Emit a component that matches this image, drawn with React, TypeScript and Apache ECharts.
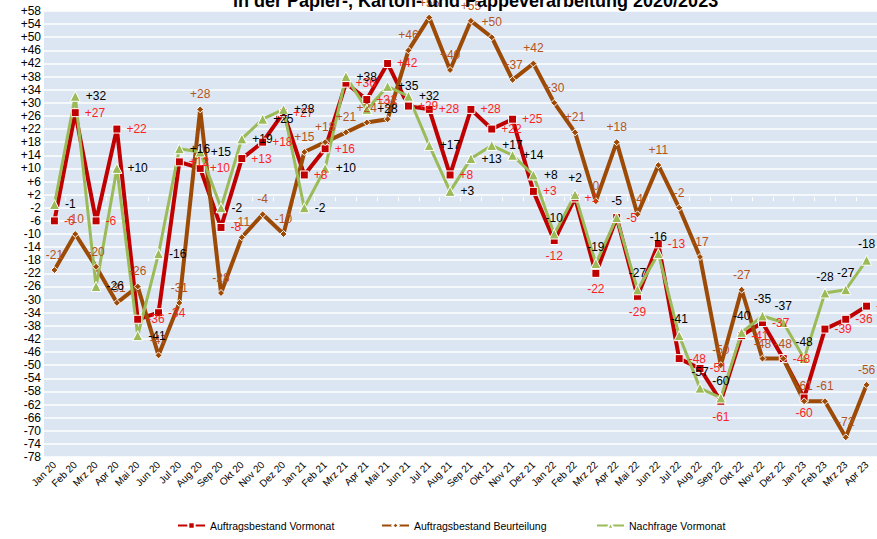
import React, { useEffect, useRef } from "react";
import * as echarts from "echarts";

const categories = [
  "Jan 20", "Feb 20", "Mrz 20", "Apr 20", "Mai 20", "Jun 20", "Jul 20", "Aug 20", "Sep 20", "Okt 20", "Nov 20", "Dez 20",
  "Jan 21", "Feb 21", "Mrz 21", "Apr 21", "Mai 21", "Jun 21", "Jul 21", "Aug 21", "Sep 21", "Okt 21", "Nov 21", "Dez 21",
  "Jan 22", "Feb 22", "Mrz 22", "Apr 22", "Mai 22", "Jun 22", "Jul 22", "Aug 22", "Sep 22", "Okt 22", "Nov 22", "Dez 22",
  "Jan 23", "Feb 23", "Mrz 23", "Apr 23",
];

const auftragsbestandVormonat = [
  -6, 27, -6, 22, -36, -34, 12, 10, -8, 13, 18, 27,
  8, 16, 36, 31, 42, 29, 28, 8, 28, 22, 25, 3,
  -12, 1, -22, -5, -29, -13, -48, -51, -61, -41, -37, -48,
  -60, -39, -36, -32,
];

const auftragsbestandBeurteilung = [
  -21, -10, -20, -31, -26, -47, -31, 28, -28, -11, -4, -10,
  15, 18, 21, 24, 25, 46, 56, 40, 55, 50, 37, 42,
  30, 21, 0, 18, -4, 11, -2, -17, -50, -27, -48, -48,
  -61, -61, -72, -56,
];

const nachfrageVormonat = [
  -1, 32, -26, 10, -41, -16, 16, 15, -2, 19, 25, 28,
  -2, 10, 38, 28, 35, 32, 17, 3, 13, 17, 14, 8,
  -10, 2, -19, -5, -27, -16, -41, -57, -60, -40, -35, -37,
  -48, -28, -27, -18,
];

const seriesNames = ["Auftragsbestand Vormonat", "Auftragsbestand Beurteilung", "Nachfrage Vormonat"];
const titleText = "in der Papier-, Karton- und Pappeverarbeitung 2020/2023";

const FONT = "Liberation Sans, Arial, sans-serif";
const signed = (v: number) => (v > 0 ? "+" + v : String(v));

export default function App() {
  const ref = useRef<HTMLDivElement>(null);
  useEffect(() => {
    if (!ref.current) return;
    const chart = echarts.init(ref.current, undefined, { renderer: "svg" });

    const labelBase = { show: true, fontSize: 12, fontFamily: FONT, formatter: (p: any) => signed(p.value) };

    const redData = auftragsbestandVormonat.map((v, i, arr) => {
      const prev = i > 0 ? arr[i - 1] : Infinity;
      const next = i < arr.length - 1 ? arr[i + 1] : Infinity;
      const localMin = v <= prev && v <= next;
      return { value: v, label: { position: i >= 24 && localMin ? "bottom" : "right" } };
    });

    const greenData = nachfrageVormonat.map((v, i) => ({
      value: v,
      label: { position: i < 24 ? "right" : "top" },
    }));

    chart.setOption({
      animation: false,
      textStyle: { fontFamily: FONT },
      title: {
        text: titleText,
        left: 228,
        top: -13,
        textStyle: { fontSize: 18, fontWeight: "bold", color: "#000", fontFamily: FONT },
      },
      grid: {
        left: 44,
        right: 0,
        top: 11,
        bottom: 82,
        show: true,
        backgroundColor: "#dce6f2",
        borderWidth: 0,
      },
      legend: [0, 1, 2].map((k) => ({
        data: [seriesNames[k]],
        left: [177, 381, 596][k],
        top: 520,
        padding: 0,
        itemWidth: 27,
        itemHeight: 8,
        itemGap: 0,
        textStyle: { fontSize: 10.5, color: "#000", fontFamily: FONT },
      })),
      xAxis: {
        type: "category",
        data: categories,
        boundaryGap: true,
        axisLine: { show: false },
        axisTick: { show: true, inside: true, length: 4, lineStyle: { color: "#ffffff", width: 1 } },
        axisLabel: { interval: 0, rotate: 45, fontSize: 10, color: "#000", fontFamily: FONT, margin: 6 },
        splitLine: { show: false },
      },
      yAxis: {
        type: "value",
        min: -78,
        max: 58,
        interval: 4,
        axisLine: { show: false },
        axisTick: { show: false },
        axisLabel: { fontSize: 12, color: "#000", fontFamily: FONT, margin: 3, formatter: (v: number) => signed(v) },
        splitLine: { show: true, lineStyle: { color: "#ffffff", width: 1.5 } },
      },
      series: [
        {
          name: seriesNames[0],
          type: "line",
          data: redData,
          symbol: "rect",
          symbolSize: 8,
          lineStyle: { color: "#c00000", width: 4 },
          itemStyle: { color: "#c00000", borderColor: "#ffffff", borderWidth: 1 },
          label: { ...labelBase, distance: 5, color: "#ff1f1f" },
        },
        {
          name: seriesNames[1],
          type: "line",
          data: auftragsbestandBeurteilung,
          symbol: "diamond",
          symbolSize: 7,
          lineStyle: { color: "#9c4a06", width: 4 },
          itemStyle: { color: "#9c4a06", borderColor: "#ffffff", borderWidth: 1 },
          label: { ...labelBase, position: "top", distance: 5, color: "#b5541a" },
        },
        {
          name: seriesNames[2],
          type: "line",
          data: greenData,
          symbol: "triangle",
          symbolSize: 10,
          lineStyle: { color: "#9bbb59", width: 3 },
          itemStyle: { color: "#9bbb59", borderColor: "#ffffff", borderWidth: 1 },
          label: { ...labelBase, distance: 5, color: "#000000" },
        },
      ],
    });
    return () => chart.dispose();
  }, []);
  return (
    <div
      ref={ref}
      style={{ position: "fixed", left: 0, top: 0, width: 877, height: 539, background: "#fff" }}
    />
  );
}
